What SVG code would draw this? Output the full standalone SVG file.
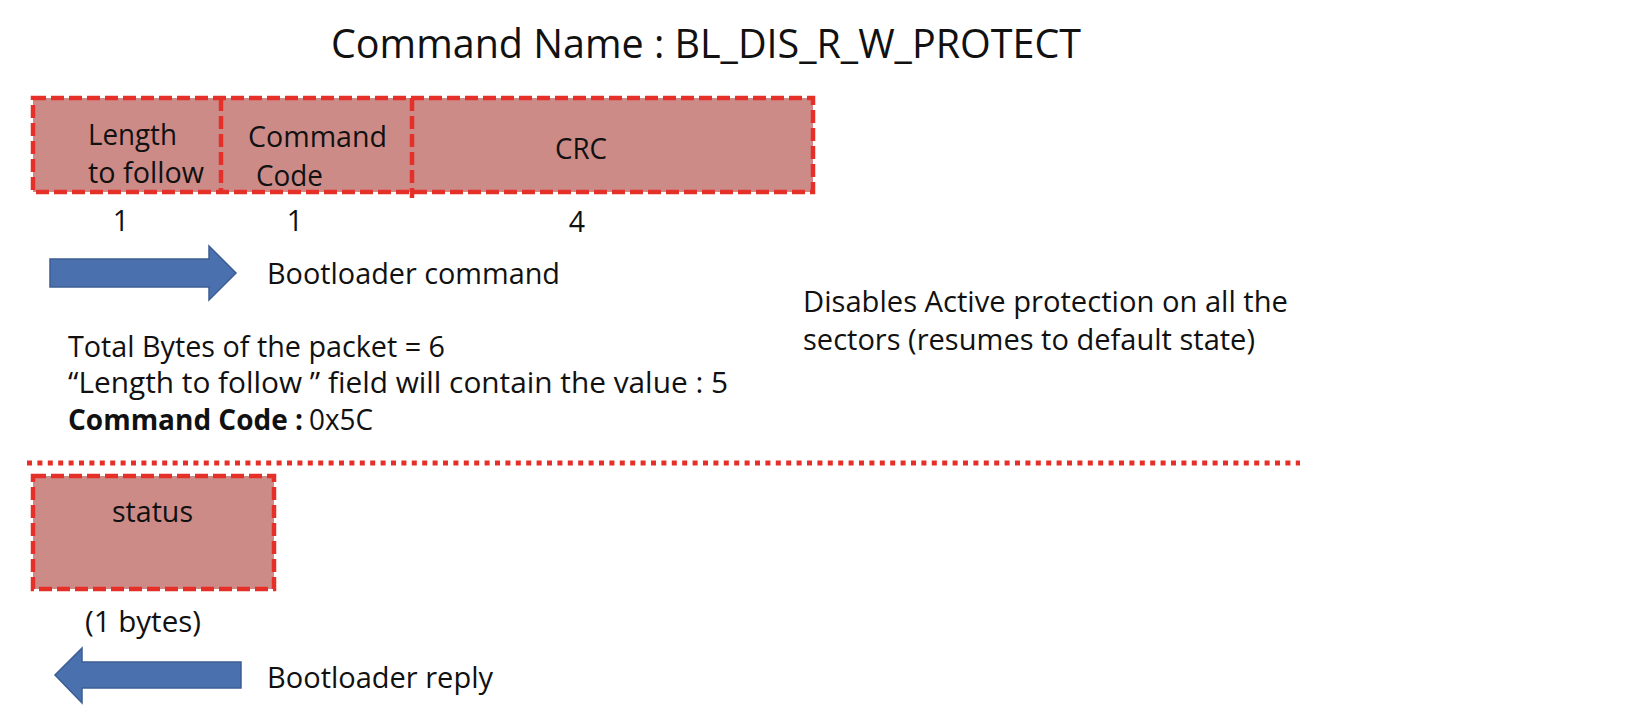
<svg xmlns="http://www.w3.org/2000/svg" width="1636" height="726" viewBox="0 0 1636 726">
<style>
text { font-family: "Open Sans", "Liberation Sans", sans-serif; fill: #111111; }
.t { font-size: 28.5px; }
.title { font-size: 41px; }
.box { fill: #cd8b88; stroke: #e5302a; stroke-width: 4.5; stroke-dasharray: 13 5; }
.div { fill: none; stroke: #e5302a; stroke-width: 4.5; stroke-dasharray: 13 5; }
.arrow { fill: #4a70ad; stroke: #3b5d93; stroke-width: 1.5; }
.sep { fill: none; stroke: #e5302a; stroke-width: 5; stroke-dasharray: 5 5.4; }
</style>
<rect width="1636" height="726" fill="#ffffff"/>
<g id="title">
<text class="title" x="331" y="58" textLength="750" lengthAdjust="spacingAndGlyphs">Command Name : BL_DIS_R_W_PROTECT</text>
</g>
<g id="cmd-packet">
<rect class="box" x="33" y="98" width="780" height="94"/>
<line class="div" x1="221" y1="98" x2="221" y2="192"/>
<line class="div" x1="412" y1="98" x2="412" y2="198"/>
</g>
<g id="field-length">
<text class="t" x="88" y="145" textLength="89" lengthAdjust="spacingAndGlyphs">Length</text>
<text class="t" x="88" y="183" textLength="116" lengthAdjust="spacingAndGlyphs">to follow</text>
<text class="t" x="121" y="231" text-anchor="middle">1</text>
</g>
<g id="field-command-code">
<text class="t" x="248" y="147" textLength="139" lengthAdjust="spacingAndGlyphs">Command</text>
<text class="t" x="256" y="186" textLength="67" lengthAdjust="spacingAndGlyphs">Code</text>
<text class="t" x="295" y="231" text-anchor="middle">1</text>
</g>
<g id="field-crc">
<text class="t" x="555" y="159" textLength="52" lengthAdjust="spacingAndGlyphs">CRC</text>
<text class="t" x="577" y="232" text-anchor="middle">4</text>
</g>
<g id="cmd-arrow">
<polygon class="arrow" points="50,259 209,259 209,246 236,273 209,300 209,287 50,287"/>
<text class="t" x="267" y="284" textLength="293" lengthAdjust="spacingAndGlyphs">Bootloader command</text>
</g>
<g id="description">
<text class="t" x="803" y="312" textLength="485" lengthAdjust="spacingAndGlyphs">Disables Active protection on all the</text>
<text class="t" x="803" y="350" textLength="452" lengthAdjust="spacingAndGlyphs">sectors (resumes to default state)</text>
</g>
<g id="packet-info">
<text class="t" x="68" y="357" textLength="377" lengthAdjust="spacingAndGlyphs">Total Bytes of the packet = 6</text>
<text class="t" x="68" y="393" textLength="660" lengthAdjust="spacingAndGlyphs">“Length to follow ” field will contain the value : 5</text>
<text class="t" x="68" y="430" font-weight="bold" textLength="235" lengthAdjust="spacingAndGlyphs">Command Code :</text>
<text class="t" x="309" y="430" textLength="64" lengthAdjust="spacingAndGlyphs">0x5C</text>
</g>
<g id="connectors">
<line class="sep" x1="27" y1="463" x2="1300" y2="463"/>
</g>
<g id="reply-packet">
<rect class="box" x="33" y="476" width="241" height="113"/>
<text class="t" x="112" y="522" textLength="81" lengthAdjust="spacingAndGlyphs">status</text>
<text class="t" x="85" y="632" textLength="116" lengthAdjust="spacingAndGlyphs">(1 bytes)</text>
</g>
<g id="reply-arrow">
<polygon class="arrow" points="241,662 82,662 82,648 55,675 82,703 82,688 241,688"/>
<text class="t" x="267" y="688" textLength="226" lengthAdjust="spacingAndGlyphs">Bootloader reply</text>
</g>
</svg>
